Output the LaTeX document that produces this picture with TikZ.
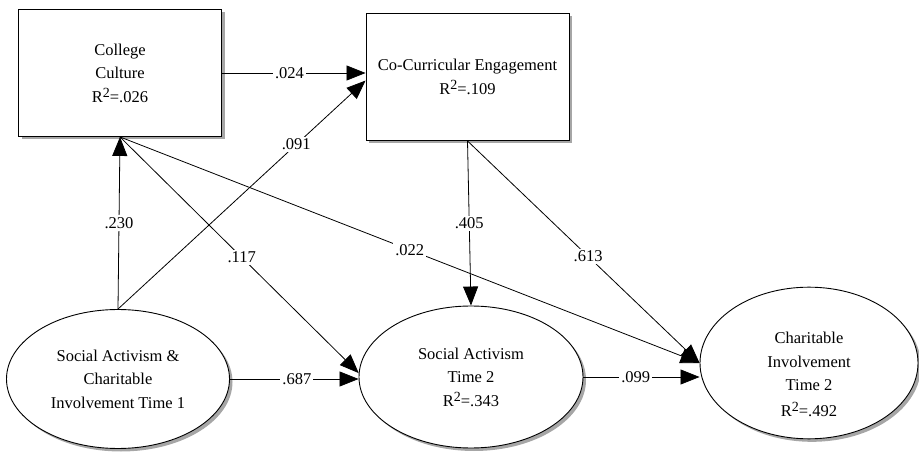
\documentclass[tikz,border=0pt]{standalone}
\usepackage{fontspec}
\setmainfont{Liberation Serif}
\usetikzlibrary{shapes.geometric,arrows.meta,shadows}

\newcommand{\rsquared}{R\raisebox{5pt}{\fontsize{14}{14}\selectfont 2}}

\tikzset{
	construct/.style={draw, line width=0.9pt, fill=white, align=center,
		drop shadow={shadow xshift=3pt, shadow yshift=-3pt, fill=gray!70, opacity=1}},
	observed/.style={construct, rectangle, minimum width=203pt, minimum height=127pt},
	latent/.style={construct, ellipse, inner sep=0pt},
	arr/.style={draw, line width=0.8pt, -{Triangle[length=19pt,width=15pt]}},
	coef/.style={fill=white, inner sep=2pt, font=\fontsize{16.5}{18}\selectfont}
}

\begin{document}
\begin{tikzpicture}[x=1pt, y=-1pt, font=\fontsize{16.5}{23.5}\selectfont]
			\useasboundingbox (0,0) rectangle (919,454);
			
			% measured variables (boxes)
			\node[observed] (college) at (120,73) {College\\Culture\\\rsquared=.026};
			\node[observed] (cocurr) at (467.5,77) {Co-Curricular Engagement\\\rsquared=.109};
			
			% latent variables (ellipses)
			\node[latent, minimum width=223pt, minimum height=139pt] (sact1) at (118,379)
			{Social Activism \&\\Charitable\\Involvement Time 1};
			\node[latent, minimum width=224pt, minimum height=142pt] (sact2) at (471,377)
			{Social Activism\\Time 2\\\rsquared=.343};
			\node[latent, minimum width=218pt, minimum height=140pt] (charit2) at (809,363)
			{\mbox{}\\[11pt]Charitable\\Involvement\\Time 2\\[2pt]\rsquared=.492};
			
			% paths
			\draw[arr] (college.east) -- (college.east -| cocurr.west)
			node[coef, pos=0.47] {.024};
			\draw[arr] (sact1.north) -- (college.south)
			node[coef, pos=0.5] {.230};
			\draw[arr] (sact1.north) -- (cocurr.182)
			node[coef, pos=0.72] {.091};
			\draw[arr] (college.south) -- (sact2.178)
			node[coef, pos=0.51] {.117};
			\draw[arr] (college.south) -- (charit2.west)
			node[coef, pos=0.5] {.022};
			\draw[arr] (cocurr.south) -- (sact2.north)
			node[coef, pos=0.5] {.405};
			\draw[arr] (cocurr.south) -- (charit2.west)
			node[coef, pos=0.52] {.613};
			\draw[arr] (sact1.east) -- (sact1.east -| sact2.west)
			node[coef, pos=0.52] {.687};
			\draw[arr] (sact2.east) -- (sact2.east -| charit2.west)
			node[coef, pos=0.45] {.099};
		\end{tikzpicture}
\end{document}
